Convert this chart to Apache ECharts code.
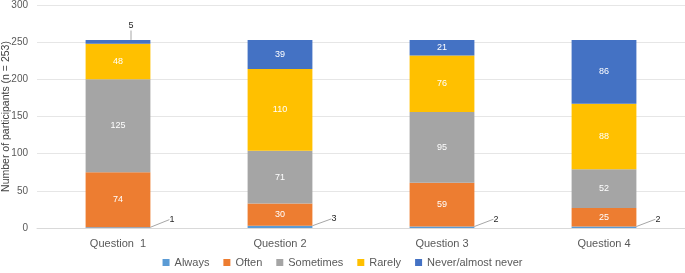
<!DOCTYPE html>
<html>
<head>
<meta charset="utf-8">
<script src="https://cdn.jsdelivr.net/npm/echarts@6/dist/echarts.min.js"></script>
<style>
  html, body { margin: 0; padding: 0; background: #fff; }
  #main { width: 685px; height: 273px; }
</style>
</head>
<body>
<div id="main"></div>
<script>
var questions = ['Question  1', 'Question 2', 'Question 3', 'Question 4'];
var always = [1, 3, 2, 2];
var often = [74, 30, 59, 25];
var sometimes = [125, 71, 95, 52];
var rarely = [48, 110, 76, 88];
var never = [5, 39, 21, 86];

var chart = echarts.init(document.getElementById('main'), null, { renderer: 'canvas' });

var inLabel = {
    show: true,
    position: 'inside',
    color: '#ffffff',
    fontSize: 9,
    fontFamily: 'Liberation Sans, Arial, sans-serif'
};

function bar(name, data, color, label, extra) {
    var s = {
        name: name,
        type: 'bar',
        stack: 'total',
        barWidth: '40%',
        data: data,
        itemStyle: { color: color },
        label: label
    };
    for (var k in extra) s[k] = extra[k];
    return s;
}

var option = {
    animation: false,
    textStyle: { fontFamily: 'Liberation Sans, Arial, sans-serif' },
    grid: { left: 37, right: 0, top: 5, bottom: 45, containLabel: false, outerBoundsMode: 'none' },
    legend: {
        bottom: 0,
        left: 'center',
        itemWidth: 7,
        itemHeight: 7,
        itemGap: 14,
        icon: 'rect',
        textStyle: { color: '#595959', fontSize: 11 },
        data: ['Always', 'Often', 'Sometimes', 'Rarely', 'Never/almost never']
    },
    xAxis: {
        type: 'category',
        data: questions,
        axisLine: { lineStyle: { color: '#d9d9d9' } },
        axisTick: { show: false },
        axisLabel: { color: '#595959', fontSize: 11, margin: 10 }
    },
    yAxis: {
        type: 'value',
        min: 0,
        max: 300,
        interval: 50,
        name: 'Number of participants (n = 253)',
        nameLocation: 'middle',
        nameGap: 25,
        nameMoveOverlap: false,
        nameTextStyle: { color: '#404040', fontSize: 10.5 },
        axisLabel: { color: '#595959', fontSize: 10, margin: 9 },
        splitLine: { lineStyle: { color: '#e6e6e6' } }
    },
    series: [
        bar('Always', always, '#5B9BD5', {
            show: true, position: 'right', color: '#262626', fontSize: 9
        }, {
            labelLine: { show: true, lineStyle: { color: '#a6a6a6', width: 1 } },
            labelLayout: { dx: 14, dy: -8 }
        }),
        bar('Often', often, '#ED7D31', inLabel, {}),
        bar('Sometimes', sometimes, '#A5A5A5', inLabel, {}),
        bar('Rarely', rarely, '#FFC000', inLabel, {}),
        bar('Never/almost never', never, '#4472C4', inLabel, {
            labelLine: { show: true, lineStyle: { color: '#a6a6a6', width: 1 } },
            labelLayout: function (p) {
                if (p.dataIndex === 0) {
                    return { x: 131, y: 26, align: 'center', verticalAlign: 'middle' };
                }
                return {};
            }
        })
    ]
};

// Q1's small "never" value sits above the bar
option.series[4].data = never.map(function (v, i) {
    if (i === 0) {
        return { value: v, label: { position: 'top', color: '#262626' } };
    }
    return v;
});

chart.setOption(option);
</script>
</body>
</html>
